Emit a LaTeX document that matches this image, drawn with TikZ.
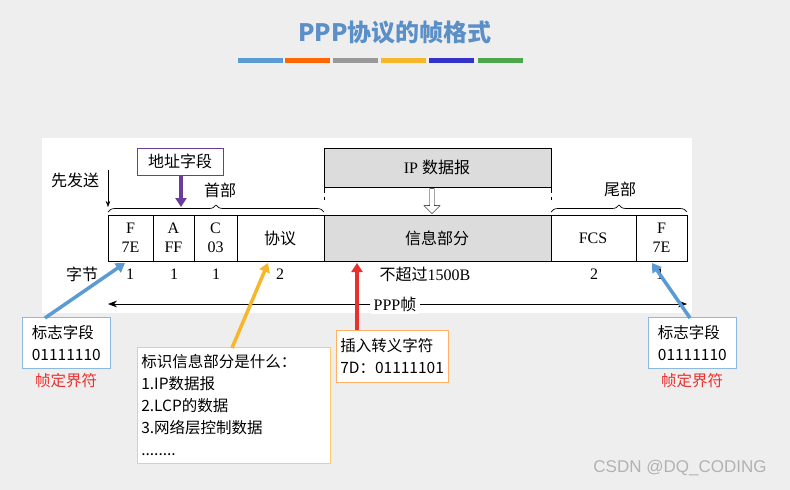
\documentclass[tikz,border=0pt]{standalone}
\usepackage{fontspec}
\setmainfont{Liberation Serif}
\newfontfamily\cjk{Noto Sans CJK SC}
\usetikzlibrary{decorations.pathreplacing,arrows.meta,shapes.arrows}
\definecolor{bgc}{HTML}{EEEEEF}
\definecolor{ttl}{HTML}{5B8FC8}
\definecolor{ablue}{HTML}{5B9BD5}
\definecolor{ayel}{HTML}{F8B62B}
\definecolor{ared}{HTML}{E8302E}
\definecolor{apur}{HTML}{6A3D9A}
\definecolor{fgray}{HTML}{DCDCDC}
\tikzset{
  fld/.style={draw,line width=0.8pt,inner sep=0},
  txt/.style={font=\fontsize{16}{18}\selectfont,inner sep=0},
  ann/.style={draw,fill=white,line width=0.6pt,align=left,anchor=north west,font=\cjk\fontsize{15.5}{22}\selectfont,inner sep=4pt},
  fat/.style={line width=3.5pt,-{Triangle[length=9pt,width=11pt]}},
}
\begin{document}
\begin{tikzpicture}[x=1pt,y=-1pt]
\useasboundingbox (0,0) rectangle (790,490);
\fill[bgc] (0,0) rectangle (790,490);
\fill[white] (42,138) rectangle (692,313);
\node[font=\cjk\bfseries\fontsize{24}{26}\selectfont,text=ttl] (title) at (395,33) {PPP协议的帧格式};
\foreach \x/\c in {238/ablue,285/orange!80!red,333/gray!80,381/ayel,429/blue!60!gray,478/green!50!black!70}
  \fill[\c] (\x,58) rectangle ++(45,5);
% frame boxes
\draw[fld] (108,215) rectangle (153,261);
\node[txt,align=center] (f1) at (130.5,238) {F\\[1pt]7E};
\draw[fld] (153,215) rectangle (194,261);
\node[txt,align=center] (a) at (173.5,238) {A\\[1pt]FF};
\draw[fld] (194,215) rectangle (237,261);
\node[txt,align=center] (c) at (215.5,238) {C\\[1pt]03};
\draw[fld] (237,215) rectangle (324,261);
\node[txt] (proto) at (280,238) {\cjk 协议};
\draw[fld,fill=fgray] (324,215) rectangle (551,261);
\node[txt] (info) at (437,238) {\cjk 信息部分};
\draw[fld] (551,215) rectangle (636,261);
\node[txt] (fcs) at (593,238) {FCS};
\draw[fld] (636,215) rectangle (687,261);
\node[txt,align=center] (f2) at (661.5,238) {F\\[1pt]7E};
% IP datagram
\draw[fld,fill=fgray] (324,148) rectangle (551,187);
\node[txt] (ip) at (437,167) {IP \cjk 数据报};
\draw[dash pattern=on 6pt off 4pt,line width=0.8pt] (324,187) -- (324,200) (551,187) -- (551,200);
\node[single arrow,draw,fill=white,shape border rotate=270,minimum height=25pt,minimum width=16pt,single arrow head extend=3pt,inner sep=1pt] (harr) at (432,200) {};
% braces
\draw[decorate,decoration={brace,amplitude=7pt},line width=0.7pt] (108,212) -- (324,212);
\node[txt] (hdr) at (220,190) {\cjk 首部};
\draw[decorate,decoration={brace,amplitude=7pt},line width=0.7pt] (551,212) -- (687,212);
\node[txt] (tail) at (620,189) {\cjk 尾部};
% first sent
\node[txt] (first) at (75,180) {\cjk 先发送};
\coordinate (fs1) at (108,170);
\coordinate (fs2) at (108,207);
\draw[-{Stealth[length=6pt]},line width=0.6pt] (fs1) -- (fs2);
% address field
\node[draw=apur,line width=0.6pt,fill=white,font=\cjk\fontsize{16}{18}\selectfont,minimum width=86pt,minimum height=27pt,inner sep=0] (addr) at (180,161.5) {地址字段};
\coordinate (addrT) at (181,207);
\draw[fat,apur] (addr.south) ++(1,0) -- (addrT);
% byte row
\node[txt] (bytes) at (82,274) {\cjk 字节};
\node[txt] (b1) at (130,274) {1};
\node[txt] (b2) at (174,274) {1};
\node[txt] (b3) at (216,274) {1};
\node[txt] (b4) at (280,274) {2};
\node[txt] (b5) at (425,274) {{\cjk 不超过}1500B};
\node[txt] (b6) at (594,274) {2};
\node[txt] (b7) at (660,274) {1};
% PPP frame arrow
\node[txt,fill=white,inner sep=3pt] (ppp) at (395,304) {PPP{\cjk 帧}};
\coordinate (pl) at (108,304);
\coordinate (pr) at (687,304);
\draw[-{Stealth[length=9pt]},line width=0.6pt] (ppp.west) -- (pl);
\draw[-{Stealth[length=9pt]},line width=0.6pt] (ppp.east) -- (pr);
% annotation boxes
\node[ann,draw=ablue!70,minimum width=88pt,minimum height=51pt] (lbox) at (22,317) {标志字段\\01111110};
\node[font=\cjk\fontsize{15.5}{17}\selectfont,text=ared] (ldel) at (66,381) {帧定界符};
\node[ann,draw=ablue!70,minimum width=88pt,minimum height=51pt] (rbox) at (648,317) {标志字段\\01111110};
\node[font=\cjk\fontsize{15.5}{17}\selectfont,text=ared] (rdel) at (692,381) {帧定界符};
\node[ann,draw=ayel!70,text width=185pt,minimum height=116pt,anchor=north west] (ybox) at (137,347) {标识信息部分是什么：\\1.IP数据报\\2.LCP的数据\\3.网络层控制数据\\........};
\node[ann,draw=orange!60,minimum width=105pt,minimum height=52pt] (rdbox) at (336,330) {插入转义字符\\7D：01111101};
% coloured arrows
\coordinate (t1) at (125,263);
\coordinate (t2) at (652,263);
\coordinate (t3) at (268,263);
\coordinate (t4) at (357,263);
\draw[fat,ablue] (45,318) -- (t1);
\draw[fat,ablue] (690,318) -- (t2);
\draw[fat,ayel] (232,348) -- (t3);
\draw[fat,ared] (357,330) -- (t4);
\node[font=\fontspec{Liberation Sans}\fontsize{17}{19}\selectfont,text=gray!60] (wm) at (680,468) {CSDN @DQ\_CODING};
\end{tikzpicture}
\end{document}
